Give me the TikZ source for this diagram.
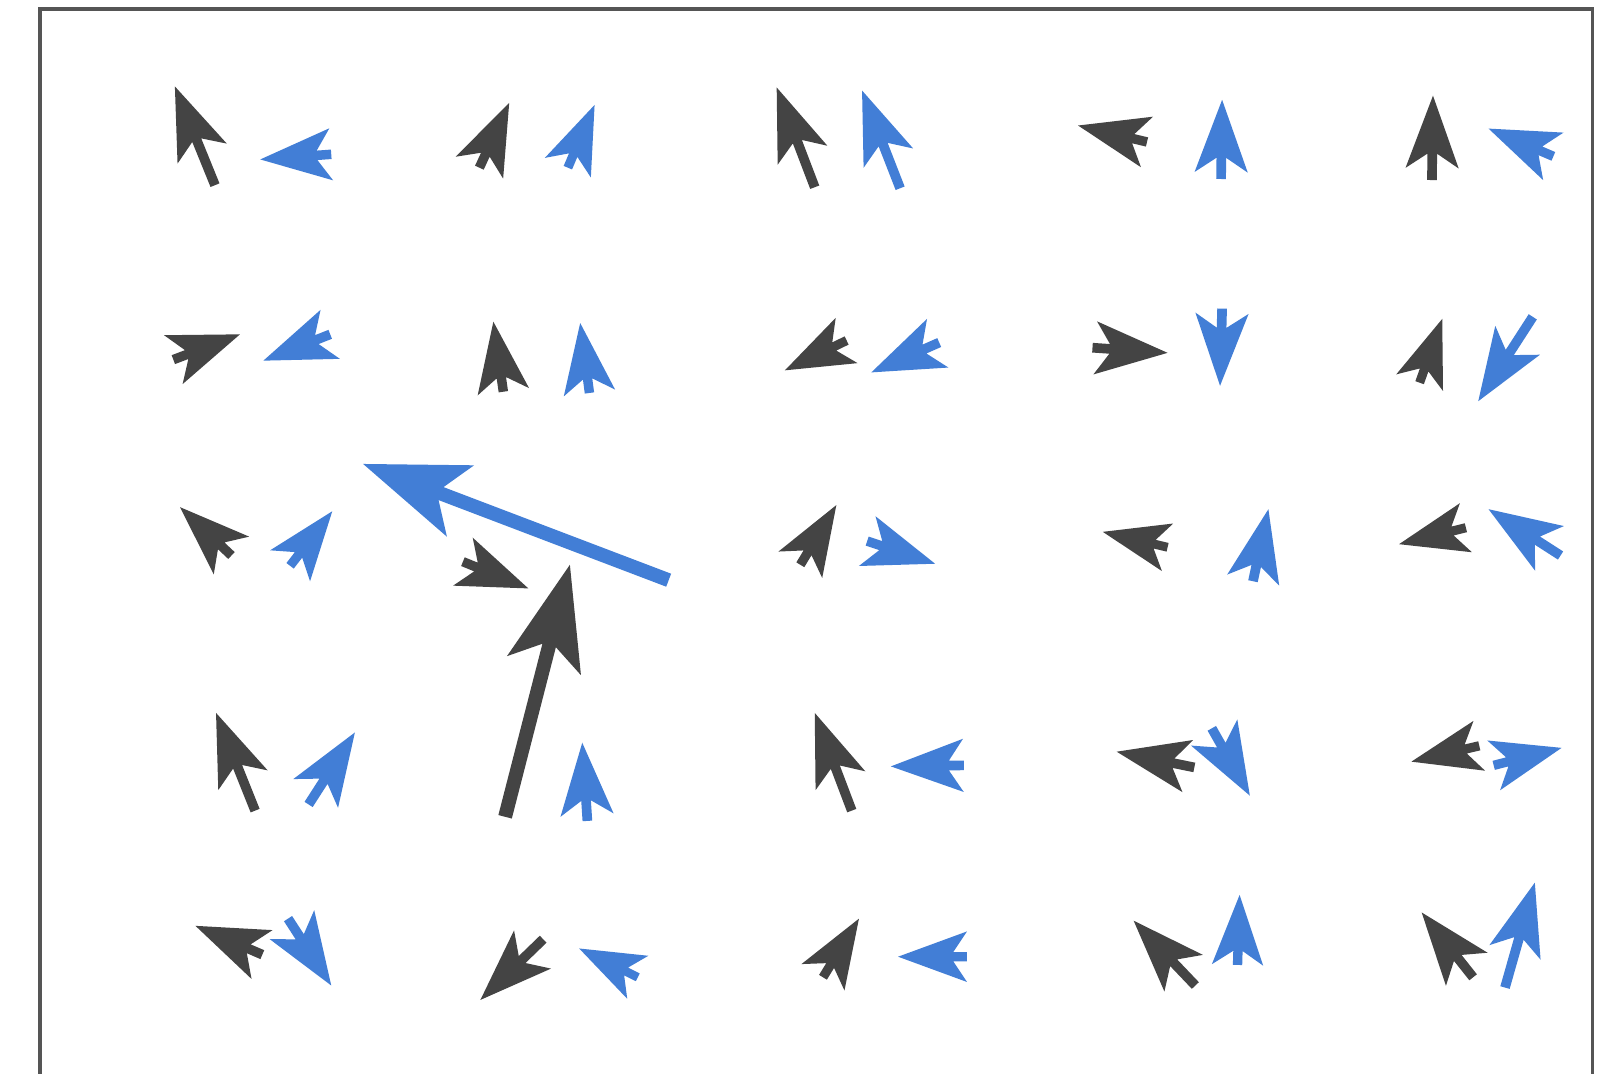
\documentclass[tikz,border=0pt]{standalone}
\usepackage{tikz}
\definecolor{qdark}{RGB}{68,68,68}
\definecolor{qblue}{RGB}{66,126,214}
\definecolor{qframe}{RGB}{85,85,85}
\newcommand{\quiv}[6]{%
  \pgfmathsetmacro{\qdx}{#4-#2}%
  \pgfmathsetmacro{\qdy}{#3-#5}%
  \pgfmathsetmacro{\qlen}{veclen(\qdx,\qdy)}%
  \pgfmathsetmacro{\qang}{atan2(\qdy,\qdx)}%
  \pgfmathsetmacro{\qw}{min(#6,\qlen/7.5)}%
  \pgfmathsetmacro{\qb}{\qlen-7.5*\qw}%
  \pgfmathsetmacro{\qn}{\qlen-6*\qw}%
  \pgfmathsetmacro{\qh}{2.75*\qw}%
  \pgfmathsetmacro{\qs}{0.5*\qw}%
  \begin{scope}[shift={(#2,#3)},rotate=\qang]
    \fill[#1] (0,-\qs) -- (\qn,-\qs) -- (\qb,-\qh) -- (\qlen,0) -- (\qb,\qh) -- (\qn,\qs) -- (0,\qs) -- cycle;
  \end{scope}}
\begin{document}
\begin{tikzpicture}[x=1pt,y=-1pt]
\useasboundingbox (0,0) rectangle (1568,1044);
\fill[white] (0,0) rectangle (1568,1044);
\draw[qframe,line width=3.5pt] (39,1044) -- (39,8.5) -- (1548,8.5) -- (1548,1044);
% row 1
\quiv{qdark}{209}{180}{170}{84}{9.4}
\quiv{qblue}{322}{150}{253}{155}{9.4}
\quiv{qdark}{466}{163}{495}{100}{9.4}
\quiv{qblue}{552}{163}{578}{102}{9.4}
\quiv{qdark}{792}{182}{755}{85}{9.4}
\quiv{qblue}{875}{183}{838}{88}{9.4}
\quiv{qdark}{1115}{138}{1048}{122}{9.4}
\quiv{qblue}{1187}{174}{1188}{97}{9.4}
\quiv{qdark}{1392}{175}{1393}{93}{9.4}
\quiv{qblue}{1510}{152}{1447}{125}{9.4}
% row 2
\quiv{qdark}{168.5}{349.6}{233.3}{325}{9.4}
\quiv{qblue}{321}{325}{256}{350.6}{9.4}
\quiv{qdark}{489.3}{380.8}{479.6}{312.7}{9.4}
\quiv{qblue}{573}{382}{564}{314}{9.4}
\quiv{qdark}{823}{331}{763}{360}{9.4}
\quiv{qblue}{913}{333}{847}{362}{9.4}
\quiv{qdark}{1062}{338}{1135}{343}{9.4}
\quiv{qblue}{1188}{300}{1186}{375}{9.4}
\quiv{qdark}{1380}{372}{1402}{310}{9.4}
\quiv{qblue}{1490}{308}{1437}{390}{9.4}
% row 3
\quiv{qdark}{225}{540}{175}{493}{9.4}
\quiv{qblue}{282}{550}{323}{497}{9.4}
\quiv{qblue}{650}{564}{353}{451}{13.5}
\quiv{qdark}{450}{546}{513.6}{572}{9.4}
\quiv{qdark}{491}{794}{554}{549}{13.5}
\quiv{qdark}{778}{549}{813}{491}{9.4}
\quiv{qblue}{843}{526}{909}{548}{9.4}
\quiv{qdark}{1135}{532}{1072}{517}{9.4}
\quiv{qblue}{1218}{565}{1233}{495}{9.4}
\quiv{qdark}{1425}{513}{1360}{529}{9.4}
\quiv{qblue}{1517}{540}{1447}{495}{9.4}
% row 4
\quiv{qdark}{248}{788}{210}{693}{9.4}
\quiv{qblue}{300}{782}{345}{712}{9.4}
\quiv{qblue}{571}{798}{566}{722}{9.4}
\quiv{qdark}{828}{788}{792}{693}{9.4}
\quiv{qblue}{937}{744}{866}{745}{9.4}
\quiv{qdark}{1161}{746}{1085.5}{730.7}{9.4}
\quiv{qblue}{1178}{708}{1215}{773.5}{9.4}
\quiv{qdark}{1438}{725}{1372}{740.4}{9.4}
\quiv{qblue}{1452}{744}{1518}{727}{9.4}
% row 5
\quiv{qdark}{255}{928}{190}{900}{9.4}
\quiv{qblue}{280}{893}{322}{958}{9.4}
\quiv{qdark}{528}{913}{467}{972}{9.4}
\quiv{qblue}{620}{950}{563}{922}{9.4}
\quiv{qdark}{800}{950}{835}{893}{9.4}
\quiv{qblue}{940}{930}{873}{930}{9.4}
\quiv{qdark}{1162}{958}{1102}{895}{9.4}
\quiv{qblue}{1203}{938}{1205}{870}{9.4}
\quiv{qdark}{1432}{950}{1382}{887}{9.4}
\quiv{qblue}{1463}{960}{1492}{858}{9.4}
\end{tikzpicture}
\end{document}
